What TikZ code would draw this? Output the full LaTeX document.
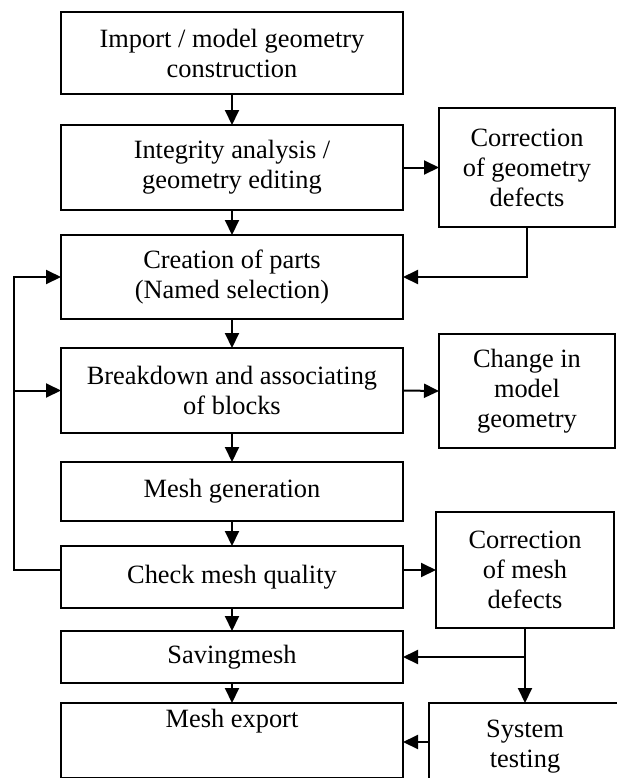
\documentclass[tikz,border=0pt]{standalone}
\usepackage{fontspec}
\setmainfont{Liberation Serif}
\usetikzlibrary{arrows.meta,positioning,calc}

\begin{document}
\begin{tikzpicture}[x=0.5pt, y=-0.5pt, line join=miter,
                    every node/.style={outer sep=0pt}]

  \tikzset{
    box/.style={draw=black, line width=1pt, align=center, inner sep=2pt,
                font=\fontsize{13.2}{15}\selectfont},
    mainbox/.style={box, minimum width=171pt},
    sidebox/.style={box, minimum width=88pt},
    arr/.style={line width=1pt, draw=black, -{Triangle[length=7.5pt,width=7pt]}},
    link/.style={line width=1pt, draw=black}
  }

  \path[use as bounding box] (0,0) rectangle (617,778);

  % Main column
  \node[mainbox, minimum height=41pt]   (imp)   at (232,53)    {Import / model geometry\\construction};
  \node[mainbox, minimum height=42.5pt] (integ) at (232,167.5) {Integrity analysis /\\geometry editing};
  \node[mainbox, minimum height=42pt]   (parts) at (232,277)   {Creation of parts\\(Named selection)};
  \node[mainbox, minimum height=42.5pt] (brk)   at (232,390.5) {Breakdown and associating\\of blocks};
  \node[mainbox, minimum height=29.5pt] (gen)   at (232,491.5) {Mesh generation};
  \node[mainbox, minimum height=31pt]   (chk)   at (232,577)   {Check mesh quality};
  \node[mainbox, minimum height=26pt]   (save)  at (232,657)   {Savingmesh};
  \node[mainbox, anchor=north, inner ysep=3pt, text height=9pt, text depth=22.5pt]
                                        (exp)   at (232,703)   {Mesh export};

  % Side column
  \node[sidebox, minimum height=59.5pt] (corrg) at (527,167.5) {Correction\\of geometry\\defects};
  \node[sidebox, minimum height=57pt]   (chg)   at (527,391)   {Change in\\model\\geometry};
  \node[box, minimum width=89pt, minimum height=58pt] (corrm) at (525,570) {Correction\\of mesh\\defects};
  \node[box, minimum width=96pt, minimum height=44pt] (sys)   at (525,747) {System\\testing};

  % Flow
  \foreach \a/\b in {imp/integ,integ/parts,parts/brk,brk/gen,gen/chk,chk/save,save/exp}
    \draw[arr] (\a.south) -- (\b.north);

  \draw[arr] (integ.east) -- (corrg.west);
  \draw[arr] (corrg.south) |- (parts.east);
  \draw[arr] (brk.east) -- (chg.west);
  \draw[arr] (chk.east |- corrm.west) -- (corrm.west);

  % Feedback loop
  \coordinate (loop) at ([xshift=-23.5pt]chk.west |- corrm.west);
  \draw[arr] (chk.west |- corrm.west) -- (loop) |- (parts.west);
  \draw[arr] (loop |- brk.west) -- (brk.west);

  % Mesh defects branch
  \draw[arr] (corrm.south) -- (sys.north);
  \draw[arr] (corrm.south |- save.east) -- (save.east);
  \draw[arr] ([yshift=2.5pt]sys.west) -- ([yshift=2.5pt]sys.west -| exp.east);
\end{tikzpicture}
\end{document}
